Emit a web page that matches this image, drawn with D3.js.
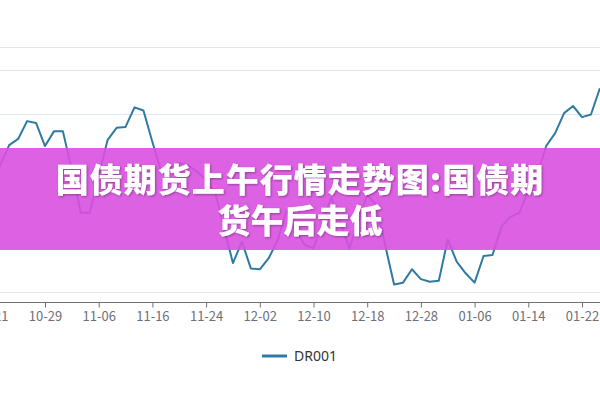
<!DOCTYPE html>
<html><head><meta charset="utf-8">
<script src="https://cdn.jsdelivr.net/npm/d3@7"></script>
<style>
html,body{margin:0;padding:0;background:#fff;}
svg{display:block;}
</style>
</head><body>
<svg id="chart" width="600" height="400"></svg>
<script>
// ---- data ----
const dates = [
  "10-21","10-22","10-23","10-24","10-25","10-28","10-29",
  "10-30","10-31","11-01","11-04","11-05","11-06",
  "11-07","11-08","11-11","11-12","11-14","11-16",
  "11-18","11-19","11-20","11-21","11-22","11-24",
  "11-25","11-26","11-27","11-28","11-29","12-02",
  "12-03","12-04","12-05","12-06","12-09","12-10",
  "12-11","12-12","12-13","12-16","12-17","12-18",
  "12-19","12-20","12-23","12-25","12-26","12-28",
  "12-30","12-31","01-02","01-03","01-05","01-06",
  "01-07","01-08","01-09","01-10","01-13","01-14",
  "01-15","01-16","01-17","01-20","01-21","01-22",
  "01-23","01-24"
];
const dr001 = [
  1.640,1.685,1.730,1.744,1.784,1.780,1.728,
  1.761,1.761,1.674,1.578,1.578,1.661,
  1.742,1.769,1.771,1.815,1.808,1.737,
  1.670,1.681,1.690,1.685,1.670,1.652,
  1.625,1.544,1.465,1.513,1.453,1.451,
  1.476,1.517,1.584,1.539,1.506,1.498,
  1.557,1.613,1.557,1.498,1.557,1.618,
  1.596,1.506,1.417,1.421,1.451,1.429,
  1.423,1.425,1.518,1.468,1.442,1.421,
  1.481,1.483,1.547,1.569,1.578,1.627,
  1.663,1.728,1.757,1.802,1.818,1.793,
  1.799,1.858
];
const labelDates = ["10-21","10-29","11-06","11-16","11-24","12-02","12-10","12-18","12-28","01-06","01-14","01-22"];
const yTicks = [1.4,1.5,1.6,1.7,1.8,1.9];
const yMin = 1.3775, yMax = 1.9506;
const seriesName = "DR001";
const titleLines = ["国债期货上午行情走势图:国债期","货午后走低"];

// ---- layout ----
const svg = d3.select("#chart");
const lineColor = "#2e7aa2";
const x = d3.scalePoint().domain(dates).range([-8.7, 599.9]);
const y = d3.scaleLinear().domain([yMin, yMax]).range([302, 47]);

// grid lines
const gridVals = yTicks.concat([yMax]);
svg.append("g").selectAll("line").data(gridVals).join("line")
  .attr("x1", 0).attr("x2", 600)
  .attr("y1", d => Math.round(y(d)) + 0.5).attr("y2", d => Math.round(y(d)) + 0.5)
  .attr("stroke", "#e0e6f1").attr("stroke-width", 1);

// x axis
const xAxis = d3.axisBottom(x).tickValues(labelDates).tickSize(5).tickPadding(4);
const gx = svg.append("g").attr("transform", `translate(0,${Math.round(y(yMin)) + 0.5})`).call(xAxis);
gx.select(".domain").attr("stroke", "#6e7079").attr("d", "M0,0H600");
gx.selectAll(".tick line").attr("stroke", "#6e7079");
gx.selectAll(".tick text").attr("fill", "#6e7079")
  .style("font-family", "'Noto Sans CJK SC','Noto Sans',sans-serif").style("font-size", "13px");

// line
const line = d3.line().x((d, i) => x(dates[i])).y(d => y(d));
svg.append("path").datum(dr001).attr("d", line)
  .attr("fill", "none").attr("stroke", lineColor).attr("stroke-width", 2)
  .attr("stroke-linejoin", "round");

// banner
svg.append("rect").attr("x", 0).attr("y", 148).attr("width", 600).attr("height", 102)
  .attr("fill", "rgb(217,80,224)").attr("fill-opacity", 0.9);

const defs = svg.append("defs");
const f = defs.append("filter").attr("id", "sh").attr("x", "-10%").attr("y", "-30%").attr("width", "120%").attr("height", "160%");
f.append("feDropShadow").attr("dx", 1).attr("dy", 1).attr("stdDeviation", 1).attr("flood-color", "#000").attr("flood-opacity", 0.35);

svg.append("g").selectAll("text").data(titleLines).join("text")
  .attr("x", 300).attr("y", (d, i) => 192 + i * 41)
  .attr("text-anchor", "middle")
  .attr("fill", "#fff")
  .attr("filter", "url(#sh)")
  .style("font-family", "'Noto Sans CJK SC',sans-serif")
  .style("font-weight", 900).style("font-size", "33px")
  .style("letter-spacing", (d, i) => i === 0 ? "1px" : "0px")
  .text(d => d);

// legend
const lg = svg.append("g");
lg.append("line").attr("x1", 262).attr("x2", 287).attr("y1", 356).attr("y2", 356)
  .attr("stroke", lineColor).attr("stroke-width", 3);
lg.append("text").attr("x", 294).attr("y", 356).attr("dy", "0.35em")
  .attr("fill", "#333").style("font-family", "'Noto Sans','Open Sans',sans-serif").style("font-size", "14px")
  .text(seriesName);
</script>
</body></html>
